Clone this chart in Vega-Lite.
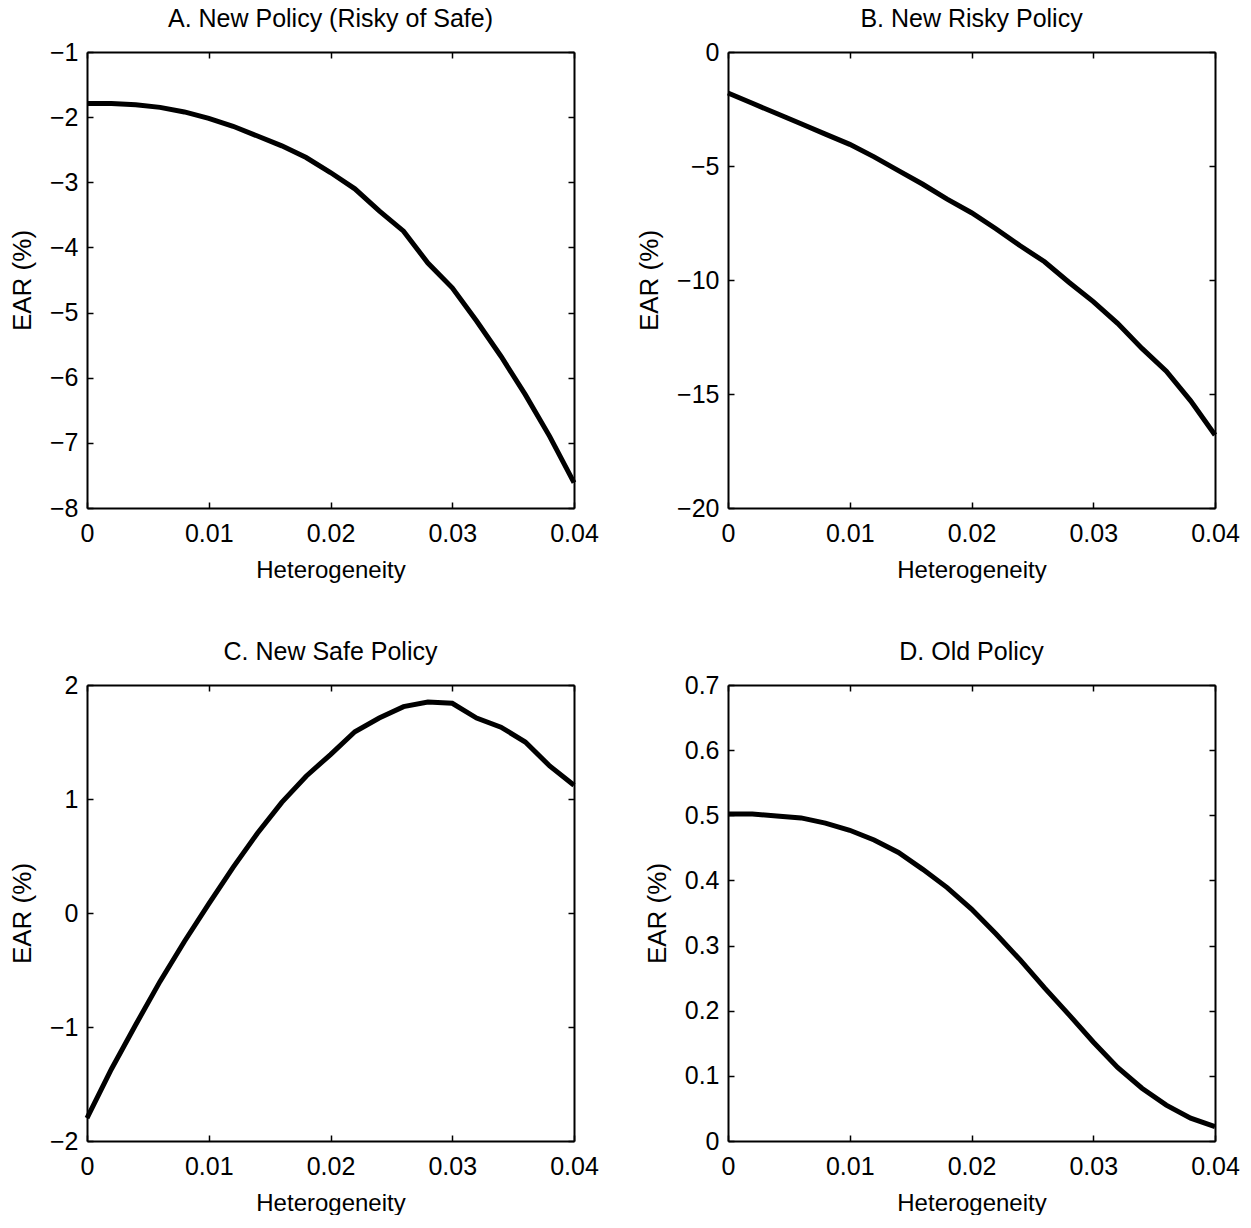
{
  "$schema": "https://vega.github.io/schema/vega-lite/v6.json",
  "background": "white",
  "padding": {"left": 9, "top": 7, "right": 5, "bottom": 0},
  "datasets": {
    "A": [
      {"h": 0, "ear": -1.79}, {"h": 0.002, "ear": -1.79}, {"h": 0.004, "ear": -1.81}, {"h": 0.006, "ear": -1.85},
      {"h": 0.008, "ear": -1.92}, {"h": 0.01, "ear": -2.02}, {"h": 0.012, "ear": -2.14}, {"h": 0.014, "ear": -2.29},
      {"h": 0.016, "ear": -2.44}, {"h": 0.018, "ear": -2.62}, {"h": 0.02, "ear": -2.85}, {"h": 0.022, "ear": -3.1},
      {"h": 0.024, "ear": -3.44}, {"h": 0.026, "ear": -3.75}, {"h": 0.028, "ear": -4.24}, {"h": 0.03, "ear": -4.62},
      {"h": 0.032, "ear": -5.13}, {"h": 0.034, "ear": -5.67}, {"h": 0.036, "ear": -6.26}, {"h": 0.038, "ear": -6.9},
      {"h": 0.04, "ear": -7.61}
    ],
    "B": [
      {"h": 0, "ear": -1.8}, {"h": 0.002, "ear": -2.25}, {"h": 0.004, "ear": -2.7}, {"h": 0.006, "ear": -3.15},
      {"h": 0.008, "ear": -3.6}, {"h": 0.01, "ear": -4.05}, {"h": 0.012, "ear": -4.6}, {"h": 0.014, "ear": -5.2},
      {"h": 0.016, "ear": -5.8}, {"h": 0.018, "ear": -6.45}, {"h": 0.02, "ear": -7.05}, {"h": 0.022, "ear": -7.75},
      {"h": 0.024, "ear": -8.5}, {"h": 0.026, "ear": -9.2}, {"h": 0.028, "ear": -10.1}, {"h": 0.03, "ear": -10.95},
      {"h": 0.032, "ear": -11.9}, {"h": 0.034, "ear": -13.0}, {"h": 0.036, "ear": -14.0}, {"h": 0.038, "ear": -15.3},
      {"h": 0.04, "ear": -16.8}
    ],
    "C": [
      {"h": 0, "ear": -1.8}, {"h": 0.002, "ear": -1.37}, {"h": 0.004, "ear": -0.98}, {"h": 0.006, "ear": -0.6},
      {"h": 0.008, "ear": -0.25}, {"h": 0.01, "ear": 0.08}, {"h": 0.012, "ear": 0.4}, {"h": 0.014, "ear": 0.7},
      {"h": 0.016, "ear": 0.97}, {"h": 0.018, "ear": 1.2}, {"h": 0.02, "ear": 1.39}, {"h": 0.022, "ear": 1.59},
      {"h": 0.024, "ear": 1.71}, {"h": 0.026, "ear": 1.81}, {"h": 0.028, "ear": 1.85}, {"h": 0.03, "ear": 1.84},
      {"h": 0.032, "ear": 1.71}, {"h": 0.034, "ear": 1.63}, {"h": 0.036, "ear": 1.5}, {"h": 0.038, "ear": 1.29},
      {"h": 0.04, "ear": 1.12}
    ],
    "D": [
      {"h": 0, "ear": 0.502}, {"h": 0.002, "ear": 0.502}, {"h": 0.004, "ear": 0.499}, {"h": 0.006, "ear": 0.496},
      {"h": 0.008, "ear": 0.488}, {"h": 0.01, "ear": 0.477}, {"h": 0.012, "ear": 0.462}, {"h": 0.014, "ear": 0.443},
      {"h": 0.016, "ear": 0.417}, {"h": 0.018, "ear": 0.389}, {"h": 0.02, "ear": 0.356}, {"h": 0.022, "ear": 0.318},
      {"h": 0.024, "ear": 0.278}, {"h": 0.026, "ear": 0.235}, {"h": 0.028, "ear": 0.194}, {"h": 0.03, "ear": 0.152},
      {"h": 0.032, "ear": 0.113}, {"h": 0.034, "ear": 0.081}, {"h": 0.036, "ear": 0.055}, {"h": 0.038, "ear": 0.035},
      {"h": 0.04, "ear": 0.022}
    ]
  },
  "columns": 2,
  "spacing": {"row": 177, "column": 154},
  "bounds": "flush",
  "concat": [
    {
      "width": 487, "height": 456,
      "title": "A. New Policy (Risky of Safe)",
      "data": {"name": "A"},
      "layer": [
        {
          "mark": {"type": "line", "color": "black", "strokeWidth": 5},
          "encoding": {
            "x": {"field": "h", "type": "quantitative", "scale": {"domain": [0, 0.04], "nice": false},
                  "axis": {"orient": "bottom", "title": "Heterogeneity", "values": [0, 0.01, 0.02, 0.03, 0.04]}},
            "y": {"field": "ear", "type": "quantitative", "scale": {"domain": [-8, -1], "nice": false, "zero": false},
                  "axis": {"orient": "left", "title": "EAR (%)", "values": [-8, -7, -6, -5, -4, -3, -2, -1]}}
          }
        },
        {
          "mark": {"type": "line", "opacity": 0},
          "encoding": {
            "x": {"field": "h", "type": "quantitative", "scale": {"domain": [0, 0.04], "nice": false},
                  "axis": {"orient": "top", "title": null, "labels": false, "values": [0, 0.01, 0.02, 0.03, 0.04]}},
            "y": {"field": "ear", "type": "quantitative", "scale": {"domain": [-8, -1], "nice": false, "zero": false},
                  "axis": {"orient": "right", "title": null, "labels": false, "values": [-8, -7, -6, -5, -4, -3, -2, -1]}}
          }
        }
      ],
      "resolve": {"axis": {"x": "independent", "y": "independent"}}
    },
    {
      "width": 487, "height": 456,
      "title": "B. New Risky Policy",
      "data": {"name": "B"},
      "layer": [
        {
          "mark": {"type": "line", "color": "black", "strokeWidth": 5},
          "encoding": {
            "x": {"field": "h", "type": "quantitative", "scale": {"domain": [0, 0.04], "nice": false},
                  "axis": {"orient": "bottom", "title": "Heterogeneity", "values": [0, 0.01, 0.02, 0.03, 0.04]}},
            "y": {"field": "ear", "type": "quantitative", "scale": {"domain": [-20, 0], "nice": false, "zero": false},
                  "axis": {"orient": "left", "title": "EAR (%)", "values": [-20, -15, -10, -5, 0]}}
          }
        },
        {
          "mark": {"type": "line", "opacity": 0},
          "encoding": {
            "x": {"field": "h", "type": "quantitative", "scale": {"domain": [0, 0.04], "nice": false},
                  "axis": {"orient": "top", "title": null, "labels": false, "values": [0, 0.01, 0.02, 0.03, 0.04]}},
            "y": {"field": "ear", "type": "quantitative", "scale": {"domain": [-20, 0], "nice": false, "zero": false},
                  "axis": {"orient": "right", "title": null, "labels": false, "values": [-20, -15, -10, -5, 0]}}
          }
        }
      ],
      "resolve": {"axis": {"x": "independent", "y": "independent"}}
    },
    {
      "width": 487, "height": 456,
      "title": "C. New Safe Policy",
      "data": {"name": "C"},
      "layer": [
        {
          "mark": {"type": "line", "color": "black", "strokeWidth": 5},
          "encoding": {
            "x": {"field": "h", "type": "quantitative", "scale": {"domain": [0, 0.04], "nice": false},
                  "axis": {"orient": "bottom", "title": "Heterogeneity", "values": [0, 0.01, 0.02, 0.03, 0.04]}},
            "y": {"field": "ear", "type": "quantitative", "scale": {"domain": [-2, 2], "nice": false, "zero": false},
                  "axis": {"orient": "left", "title": "EAR (%)", "values": [-2, -1, 0, 1, 2]}}
          }
        },
        {
          "mark": {"type": "line", "opacity": 0},
          "encoding": {
            "x": {"field": "h", "type": "quantitative", "scale": {"domain": [0, 0.04], "nice": false},
                  "axis": {"orient": "top", "title": null, "labels": false, "values": [0, 0.01, 0.02, 0.03, 0.04]}},
            "y": {"field": "ear", "type": "quantitative", "scale": {"domain": [-2, 2], "nice": false, "zero": false},
                  "axis": {"orient": "right", "title": null, "labels": false, "values": [-2, -1, 0, 1, 2]}}
          }
        }
      ],
      "resolve": {"axis": {"x": "independent", "y": "independent"}}
    },
    {
      "width": 487, "height": 456,
      "title": "D. Old Policy",
      "data": {"name": "D"},
      "layer": [
        {
          "mark": {"type": "line", "color": "black", "strokeWidth": 5},
          "encoding": {
            "x": {"field": "h", "type": "quantitative", "scale": {"domain": [0, 0.04], "nice": false},
                  "axis": {"orient": "bottom", "title": "Heterogeneity", "values": [0, 0.01, 0.02, 0.03, 0.04]}},
            "y": {"field": "ear", "type": "quantitative", "scale": {"domain": [0, 0.7], "nice": false, "zero": false},
                  "axis": {"orient": "left", "title": "EAR (%)", "values": [0, 0.1, 0.2, 0.3, 0.4, 0.5, 0.6, 0.7]}}
          }
        },
        {
          "mark": {"type": "line", "opacity": 0},
          "encoding": {
            "x": {"field": "h", "type": "quantitative", "scale": {"domain": [0, 0.04], "nice": false},
                  "axis": {"orient": "top", "title": null, "labels": false, "values": [0, 0.01, 0.02, 0.03, 0.04]}},
            "y": {"field": "ear", "type": "quantitative", "scale": {"domain": [0, 0.7], "nice": false, "zero": false},
                  "axis": {"orient": "right", "title": null, "labels": false, "values": [0, 0.1, 0.2, 0.3, 0.4, 0.5, 0.6, 0.7]}}
          }
        }
      ],
      "resolve": {"axis": {"x": "independent", "y": "independent"}}
    }
  ],
  "config": {
    "view": {"stroke": null},
    "axis": {
      "grid": false,
      "domainColor": "black",
      "domainWidth": 2,
      "tickColor": "black",
      "tickWidth": 1.5,
      "tickSize": -6,
      "labelPadding": 15,
      "labelFont": "Liberation Sans",
      "labelFontSize": 25,
      "labelColor": "black",
      "labelFlush": false,
      "labelOverlap": false,
      "format": "~g",
      "titleFont": "Liberation Sans",
      "titleFontSize": 26,
      "titleFontWeight": "normal",
      "titleColor": "black",
      "titlePadding": 14
    },
    "axisBottom": {"titleFontSize": 24, "labelPadding": 19, "titlePadding": 12},
    "title": {
      "font": "Liberation Sans",
      "fontSize": 25,
      "fontWeight": "normal",
      "color": "black",
      "offset": 8
    }
  }
}
